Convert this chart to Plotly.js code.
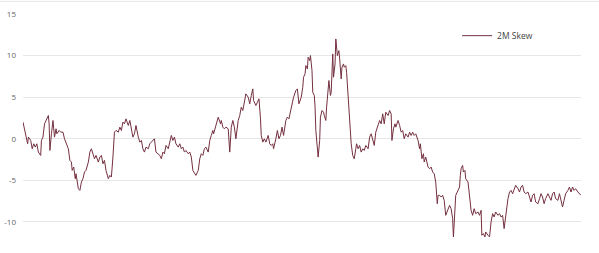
<!DOCTYPE html>
<html>
<head>
<meta charset="utf-8">
<script src="https://cdn.plot.ly/plotly-3.0.1.min.js"></script>
<style>html,body{margin:0;padding:0;background:#fff;}#chart{width:599px;height:253px;}</style>
</head>
<body>
<div id="chart"></div>
<script>
const seriesName = "2M Skew";
const days = [0,2,4,6,7,10,12,14,16,18,20,23,24,26,28,30,33,34,35,37,39,41,43,44,47,49,52,54,56,59,61,63,64,66,68,69,72,74,76,78,80,82,85,87,
89,91,93,95,98,100,102,104,106,108,111,113,115,117,119,121,124,126,128,130,132,134,137,139,141,143,145,147,150,152,154,156,158,160,163,165,167,169,171,173,176,178,
180,182,184,186,189,191,193,195,197,199,202,204,206,208,210,212,215,217,219,221,223,225,228,230,232,234,236,238,241,243,245,247,248,250,252,254,257,258,260,262,264,267,269,
271,273,275,277,280,282,284,286,288,290,293,295,297,299,300,303,305,307,309,310,312,314,316,319,321,323,325,326,329,331,333,335,337,339,342,344,346,348,350,352,355,357,359,362,
364,365,367,368,370,371,373,374,376,377,379,380,381,383,384,386,387,389,391,392,394,395,397,398,400,401,403,404,406,407,409,411,412,414,415,417,418,420,421,423,424,426,427,429,431,433,434,436,438,440,442,444,446,449,451,
453,455,457,459,462,464,466,468,470,472,475,477,479,480,482,484,485,488,490,492,494,496,498,501,503,505,507,509,511,514,516,517,519,521,522,524,527,529,531,533,535,537,539,540,542,
544,546,548,550,553,555,557,559,560,562,563,566,568,569,570,572,573,575,576,579,581,583,585,587,589,592,594,596,597,599,601,602,605,607,609,611,613,615,618,620,622,624,626,628,631,633,
635,637,639,641,644,646,648,650,652,654,657,659,661,663,665,667,670,672,674,676,678,680,683,685,687,689,691,693,696,698,700,702,704,706,709,711,713,715,717,719,722,724,726];
const skew = [2.0,1.0,0.4,-0.6,0.2,-0.2,-1.2,-0.6,-1.0,-0.6,-1.6,-2.0,-0.2,0.2,1.8,2.2,2.8,1.8,-1.4,0.6,2.2,0.2,1.2,0.6,1.0,0.8,0.8,0.0,-0.6,-1.2,-2.6,-2.8,-3.8,-3.4,-4.8,-4.2,-6.0,-6.2,-5.2,-4.8,-4.0,-3.8,-2.8,-1.6,
-1.2,-2.0,-2.4,-2.0,-2.8,-2.2,-2.0,-3.0,-2.6,-3.8,-4.8,-4.4,-4.6,-2.2,0.8,1.0,0.8,1.4,1.0,2.0,1.8,2.4,1.6,2.2,1.4,0.2,0.6,1.6,0.2,-0.4,-0.2,-1.2,-1.6,-1.0,-1.2,-0.6,-0.4,-0.2,0.0,-1.6,-1.8,-2.0,
-2.4,-1.6,-1.8,-0.8,-1.2,-0.4,0.4,-0.2,0.2,-0.6,-1.0,-0.6,-1.2,-1.0,-1.6,-1.4,-1.8,-1.6,-2.2,-3.8,-4.2,-4.4,-3.8,-2.4,-1.8,-2.0,-1.2,-1.0,-1.6,-0.2,0.4,1.0,0.6,1.2,2.0,2.6,1.8,2.2,1.4,1.2,1.4,1.2,-1.6,
1.4,2.2,1.4,0.0,2.2,2.8,3.8,3.4,4.4,5.4,5.0,4.2,5.2,6.0,4.6,4.0,4.4,4.8,2.4,0.4,-0.4,0.0,-0.4,0.4,-0.6,-0.8,-0.6,-1.2,0.0,1.0,0.0,0.4,1.4,0.4,2.2,2.6,2.4,3.2,4.4,5.0,5.8,6.0,4.2,5.0,
6.2,7.4,7.8,8.8,8.4,9.8,9.4,10.0,8.2,5.6,5.2,3.8,1.0,-1.0,-2.2,-0.2,2.6,3.4,3.2,2.8,2.2,3.8,6.0,7.0,5.2,5.6,10.2,7.4,9.0,12.0,10.0,10.6,9.6,7.2,8.6,9.0,8.6,8.8,8.0,5.0,2.6,1.0,-0.6,-2.0,-2.4,-1.2,-0.6,-1.2,-0.8,-1.6,-1.2,-1.4,-0.8,-1.2,0.2,
0.6,-0.2,-0.8,0.8,1.8,2.2,1.8,3.0,1.8,3.2,2.8,3.4,3.0,-0.2,1.2,1.8,1.4,2.2,1.6,0.8,1.0,0.0,0.6,0.2,0.8,0.4,0.8,0.4,0.6,-0.2,-1.2,-0.6,-2.4,-1.8,-2.8,-2.2,-3.4,-3.6,-3.4,-4.0,-4.2,-5.2,-7.8,-6.8,-6.8,
-7.0,-6.8,-7.4,-9.2,-8.6,-8.0,-8.4,-9.6,-11.8,-8.8,-6.8,-6.2,-5.8,-4.4,-3.6,-3.2,-4.0,-3.8,-4.8,-5.2,-6.8,-8.6,-9.2,-8.4,-9.0,-8.8,-9.2,-8.6,-11.6,-11.4,-11.8,-11.2,-11.6,-11.8,-10.0,-9.0,-9.4,-8.8,-9.2,-9.0,-9.4,-9.2,-10.8,-9.2,-7.2,-6.4,
-6.2,-6.6,-6.2,-5.6,-6.0,-6.4,-5.8,-5.6,-6.4,-6.6,-6.4,-7.0,-7.6,-6.8,-6.6,-7.6,-7.8,-7.2,-6.6,-7.0,-7.8,-7.2,-6.6,-7.0,-7.4,-6.6,-6.4,-7.2,-7.4,-6.6,-7.6,-8.2,-7.4,-6.6,-6.2,-5.8,-6.4,-5.8,-6.2,-6.0,-6.4,-6.6,-6.8];
const yTicks = [-10, -5, 0, 5, 10, 15];

const trace = {
  x: days, y: skew, type: 'scatter', mode: 'lines', name: seriesName,
  line: {color: '#74303f', width: 1}, hoverinfo: 'x+y'
};
const layout = {
  width: 599, height: 253,
  margin: {l: 23, r: 18, t: 14, b: 0},
  paper_bgcolor: '#ffffff', plot_bgcolor: '#ffffff',
  font: {family: '"Open Sans", sans-serif', size: 8, color: '#555'},
  showlegend: true,
  legend: {x: 0.778, xanchor: 'left', y: 0.97, yanchor: 'top', bgcolor: 'rgba(0,0,0,0)',
           font: {size: 8.5, color: '#444'}},
  xaxis: {range: [0, 726], showgrid: false, zeroline: false, showticklabels: false, showline: false, ticks: ''},
  yaxis: {range: [-13.73, 15], tickvals: yTicks, ticktext: yTicks.map(String), showgrid: true,
          gridcolor: '#e6e6e6', gridwidth: 1, zeroline: false, showline: false, ticks: '',
          ticklabelstandoff: 6, tickfont: {size: 8, color: '#666'}},
  shapes: [{type: 'line', xref: 'paper', yref: 'paper', x0: -0.05, x1: 1.05, y0: 1.053, y1: 1.053,
            line: {color: '#e6e6e6', width: 1}}]
};
Plotly.newPlot('chart', [trace], layout, {displayModeBar: false, staticPlot: true});
</script>
</body>
</html>
